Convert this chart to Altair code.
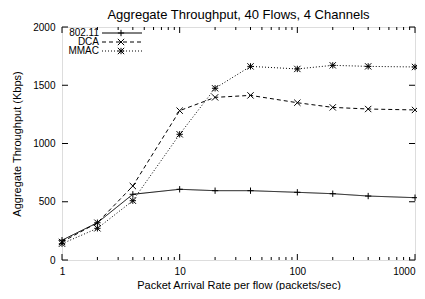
import altair as alt
import pandas as pd

rates = [1, 2, 4, 10, 20, 40, 100, 200, 400, 1000]
series = ["802.11", "DCA", "MMAC"]
v_80211 = [170, 320, 564, 607, 595, 595, 581, 569, 549, 535]
v_dca = [155, 320, 635, 1282, 1396, 1413, 1350, 1310, 1296, 1288]
v_mmac = [140, 272, 509, 1079, 1474, 1662, 1640, 1671, 1662, 1657]

x_major = [1, 10, 100, 1000]
x_minor = [2, 3, 4, 5, 6, 7, 8, 9, 20, 30, 40, 50, 60, 70, 80, 90,
           200, 300, 400, 500, 600, 700, 800, 900]
y_major = [0, 500, 1000, 1500, 2000]

W, H = 353, 233
FONT = "Liberation Sans"

rows = []
for name, vals in zip(series, [v_80211, v_dca, v_mmac]):
    for r, v in zip(rates, vals):
        rows.append({"rate": r, "tput": v, "series": name})
df = pd.DataFrame(rows)

PLUS = "M-1,0L1,0M0,-1L0,1"
XSH = "M-1,-1L1,1M-1,1L1,-1"
STAR = "M-1,0L1,0M0,-1L0,1M-1,-1L1,1M-1,1L1,-1"
dashes = [[1, 0], [4, 3], [1, 2]]
shapes = [PLUS, XSH, STAR]

xscale = alt.Scale(type="log", domain=[1, 1000], nice=False)
yscale = alt.Scale(domain=[0, 2000], nice=False, zero=True)

xaxis = alt.Axis(values=x_major, format="d", title="Packet Arrival Rate per flow (packets/sec)",
                 grid=False, ticks=False, domain=False, labelPadding=6,
                 labelFontSize=10, titleFontSize=11, titleFontWeight="normal",
                 titlePadding=3, labelColor="black", titleColor="black",
                 labelFlush=False,
                 labelAlign=alt.ExprRef("datum.value >= 1000 ? 'right' : 'center'"))
yaxis = alt.Axis(values=y_major, format="d", title="Aggregate Throughput (Kbps)",
                 grid=False, ticks=False, domain=False, labelPadding=7,
                 labelFontSize=10, titleFontSize=11, titleFontWeight="normal",
                 titlePadding=10, labelColor="black", titleColor="black")

base = alt.Chart(df)
lines = base.mark_line(color="black", strokeWidth=1).encode(
    x=alt.X("rate:Q", scale=xscale, axis=xaxis),
    y=alt.Y("tput:Q", scale=yscale, axis=yaxis),
    strokeDash=alt.StrokeDash("series:N", scale=alt.Scale(domain=series, range=dashes), legend=None),
    detail="series:N",
)
points = base.mark_point(filled=False, color="black", strokeWidth=1, size=40, opacity=1).encode(
    x=alt.X("rate:Q", scale=xscale, axis=xaxis),
    y=alt.Y("tput:Q", scale=yscale, axis=yaxis),
    shape=alt.Shape("series:N", scale=alt.Scale(domain=series, range=shapes), legend=None),
)

dmaj = pd.DataFrame({"rate": x_major})
dmin = pd.DataFrame({"rate": x_minor})
dy = pd.DataFrame({"tput": y_major})

def xticks(d, L):
    b = alt.Chart(d).mark_rule(color="black", strokeWidth=1)
    bot = b.encode(x=alt.X("rate:Q", scale=xscale, axis=xaxis), y=alt.value(H), y2=alt.value(H - L))
    top = b.encode(x=alt.X("rate:Q", scale=xscale, axis=xaxis), y=alt.value(0), y2=alt.value(L))
    return [bot, top]

yb = alt.Chart(dy).mark_rule(color="black", strokeWidth=1)
yticks = [
    yb.encode(y=alt.Y("tput:Q", scale=yscale, axis=yaxis), x=alt.value(0), x2=alt.value(6)),
    yb.encode(y=alt.Y("tput:Q", scale=yscale, axis=yaxis), x=alt.value(W), x2=alt.value(W - 6)),
]

legend_layers = []
for i, name in enumerate(series):
    ld = alt.Chart(pd.DataFrame({"s": [name]}))
    yy = 6 + i * 9
    legend_layers.append(ld.mark_text(align="right", baseline="middle", fontSize=10, font=FONT, color="black")
                         .encode(text="s:N", x=alt.value(37), y=alt.value(yy)))
    legend_layers.append(ld.mark_rule(color="black", strokeWidth=1)
                         .encode(x=alt.value(40), x2=alt.value(80), y=alt.value(yy),
                                 strokeDash=alt.value(dashes[i])))
    legend_layers.append(ld.mark_point(filled=False, color="black", strokeWidth=1, size=40, opacity=1,
                                       shape=shapes[i])
                         .encode(x=alt.value(59), y=alt.value(yy)))

chart = alt.layer(lines, points, *xticks(dmaj, 6), *xticks(dmin, 3), *yticks, *legend_layers).properties(
    width=W, height=H,
    title=alt.TitleParams("Aggregate Throughput, 40 Flows, 4 Channels", fontSize=13, font=FONT,
                          fontWeight="normal", color="black", anchor="middle", offset=0, frame="group"),
    autosize=alt.AutoSizeParams(type="none"),
    padding={"left": 54, "top": 19, "right": 2, "bottom": 30},
).configure_view(stroke="black", strokeWidth=1).configure_axis(
    labelFont=FONT, titleFont=FONT
).configure(background="white")

chart.save("out.html", embed_options={"renderer": "svg", "actions": False})
